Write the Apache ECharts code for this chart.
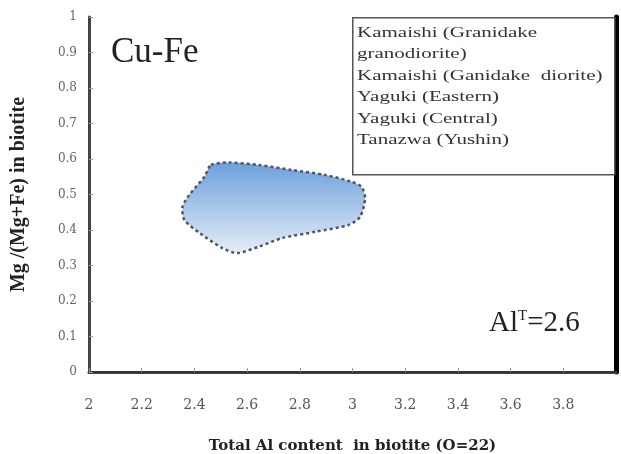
<!DOCTYPE html>
<html style="height: 100%">
<head>
    <meta charset="utf-8">
    <title>Cu-Fe biotite</title>
    <script type="text/javascript" src="https://cdn.jsdelivr.net/npm/echarts@6/dist/echarts.min.js"></script>
</head>
<body style="height: 100%; margin: 0; background: #fff;">
<div id="container" style="width: 621px; height: 454px;"></div>
<script type="text/javascript">
    // outline of the Cu-Fe field (Total Al, Mg/(Mg+Fe))
    var fieldAl = [2.463, 2.532, 2.645, 2.770, 2.897, 2.996, 3.034, 3.048, 3.029, 2.985, 2.859,
                   2.732, 2.645, 2.562, 2.506, 2.419, 2.362, 2.355, 2.381, 2.438];
    var fieldMg = [0.583, 0.590, 0.583, 0.569, 0.555, 0.536, 0.522, 0.490, 0.437, 0.414, 0.395,
                   0.377, 0.353, 0.335, 0.349, 0.392, 0.428, 0.466, 0.499, 0.550];
    var legendLines = ['Kamaishi (Granidake', 'granodiorite)', 'Kamaishi (Ganidake  diorite)',
                       'Yaguki (Eastern)', 'Yaguki (Central)', 'Tanazwa (Yushin)'];
    var xTicks = {min: 2, max: 4, step: 0.2};
    var yTicks = {min: 0, max: 1, step: 0.1};

    var serif = '"Liberation Serif", "DejaVu Serif", serif';
    var wideSerif = '"DejaVu Serif", serif';
    var fieldData = [];
    for (var i = 0; i < fieldAl.length; i++) {
        fieldData.push([fieldAl[i], fieldMg[i]]);
    }

    var myChart = echarts.init(document.getElementById('container'));
    var option = {
        animation: false,
        grid: {left: 89, right: 5, top: 17, bottom: 82, outerBoundsMode: 'none'},
        xAxis: [{
            type: 'value',
            min: xTicks.min, max: xTicks.max, interval: xTicks.step,
            name: 'Total Al content  in biotite (O=22)',
            nameLocation: 'middle', nameGap: 67,
            nameTextStyle: {fontFamily: wideSerif, fontWeight: 'bold', fontSize: 15, color: '#222'},
            axisLine: {lineStyle: {color: '#444', width: 3}},
            axisTick: {inside: true, length: 4, lineStyle: {color: '#999'}},
            axisLabel: {
                fontFamily: wideSerif, fontSize: 14, color: '#555', margin: 26, showMaxLabel: false,
                formatter: function (v) { return +v.toFixed(1) + ''; }
            },
            splitLine: {show: false}
        }, {
            type: 'value', position: 'top',
            min: xTicks.min, max: xTicks.max,
            axisLine: {show: true, lineStyle: {color: '#333', width: 2}},
            axisTick: {show: false}, axisLabel: {show: false}, splitLine: {show: false}
        }],
        yAxis: [{
            type: 'value',
            min: yTicks.min, max: yTicks.max, interval: yTicks.step,
            name: 'Mg /(Mg+Fe) in biotite',
            nameLocation: 'middle', nameGap: 60,
            nameTextStyle: {fontFamily: serif, fontWeight: 'bold', fontSize: 20, color: '#222'},
            axisLine: {show: true, lineStyle: {color: '#444', width: 3}},
            axisTick: {show: true, inside: true, length: 4, lineStyle: {color: '#999'}},
            axisLabel: {
                fontFamily: wideSerif, fontSize: 12, color: '#666', margin: 12,
                formatter: function (v) { return +v.toFixed(1) + ''; }
            },
            splitLine: {show: false}
        }, {
            type: 'value', position: 'right',
            min: yTicks.min, max: yTicks.max,
            axisLine: {show: true, lineStyle: {color: '#000', width: 5}},
            axisTick: {show: false}, axisLabel: {show: false}, splitLine: {show: false}
        }],
        graphic: [{
            type: 'rect', left: 352, top: 17,
            shape: {width: 262, height: 157},
            style: {fill: '#fff', stroke: '#555', lineWidth: 1.5}, z: 10
        }, {
            type: 'text', x: 357, y: 22, scaleX: 1.4, z: 11,
            style: {text: legendLines.join('\n'), font: '15px ' + serif, fill: '#333', lineHeight: 21.5}
        }, {
            type: 'text', left: 111, top: 35, z: 11,
            style: {text: 'Cu-Fe', font: '35px ' + serif, fill: '#222'}
        }, {
            type: 'text', left: 489, top: 309, z: 11,
            style: {
                text: 'Al{s|T}=2.6',
                font: '29px ' + serif, fill: '#222',
                rich: {s: {font: '15px ' + serif, fill: '#222', verticalAlign: 'top', padding: [0, 0, 12, 0]}}
            }
        }],
        series: [{
            type: 'custom',
            coordinateSystem: 'cartesian2d',
            data: [0],
            renderItem: function (params, api) {
                var pts = fieldData.map(function (p) { return api.coord(p); });
                return {
                    type: 'polygon',
                    shape: {points: pts, smooth: 0.25},
                    style: {
                        fill: new echarts.graphic.LinearGradient(0, 0, 0, 1, [
                            {offset: 0, color: '#6c9edb'},
                            {offset: 1, color: '#e6eef9'}
                        ]),
                        stroke: '#4f5562', lineWidth: 2.5, lineDash: [3, 3]
                    }
                };
            }
        }]
    };
    myChart.setOption(option);
</script>
</body>
</html>
